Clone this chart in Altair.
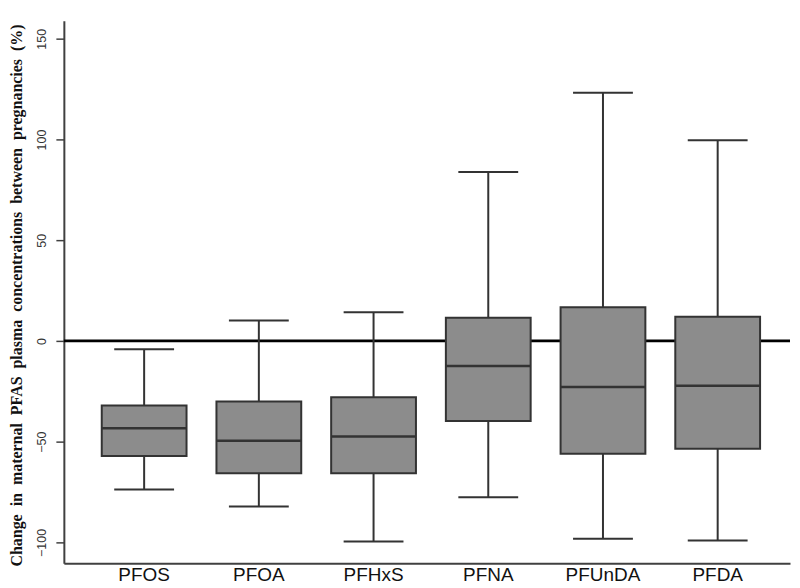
import altair as alt
import pandas as pd

pollutants = ["PFOS", "PFOA", "PFHxS", "PFNA", "PFUnDA", "PFDA"]
whisker_low = [-73.8, -82.2, -99.6, -77.6, -98.2, -99.1]
q1 = [-57.1, -65.7, -65.7, -39.8, -56.0, -53.5]
median = [-43.3, -49.5, -47.4, -12.4, -22.9, -22.3]
q3 = [-32.0, -30.0, -27.9, 11.5, 16.7, 12.0]
whisker_high = [-4.1, 10.1, 14.2, 83.9, 123.2, 99.7]
y_ticks = [-100, -50, 0, 50, 100, 150]
GAP = "\u2002"
y_title = GAP.join(["Change", "in", "maternal", "PFAS", "plasma", "concentrations",
                    "between", "pregnancies", "(%)"])

df = pd.DataFrame({
    "pollutant": pollutants,
    "lo": whisker_low,
    "q1": q1,
    "med": median,
    "q3": q3,
    "hi": whisker_high,
})

W, H = 728, 544
DARK = "#333333"

xscale = alt.Scale(domain=pollutants, paddingInner=0, paddingOuter=0.1652, align=0.605)
xenc = alt.X("pollutant:N", scale=xscale, sort=pollutants,
             axis=alt.Axis(title=None, ticks=False, labelAngle=0, labelPadding=2,
                           labelFont="Liberation Sans", labelFontSize=19, labelColor="#111111",
                           domainColor="#404040", domainWidth=2))
yscale = alt.Scale(domain=[-110.4, 159], nice=False, zero=False)
yaxis = alt.Axis(title=y_title, values=y_ticks, grid=False, tickSize=8, tickWidth=1.5,
                 tickColor="#404040", domainColor="#404040", domainWidth=2,
                 labelAngle=270, labelAlign="center", labelBaseline="alphabetic",
                 labelPadding=10, labelFont="Liberation Sans", labelFontSize=12.5,
                 labelColor="#333333",
                 titleFont="Liberation Serif", titleFontSize=16, titleFontWeight="bold",
                 titleColor="#111111", titleAngle=270, titleAlign="center",
                 titleBaseline="top", titleX=-55, titleY=H / 2 + 3)

base = alt.Chart(df)

zero = alt.Chart(pd.DataFrame({"v": [0]})).mark_rule(color="black", strokeWidth=2.8).encode(
    y=alt.Y("v:Q", scale=yscale, axis=yaxis)
)

whisk = base.mark_rule(color=DARK, strokeWidth=2).encode(
    x=xenc, y=alt.Y("lo:Q", scale=yscale, axis=yaxis), y2="hi:Q"
)

box = base.mark_bar(size=85, fill="#8c8c8c", stroke=DARK, strokeWidth=2).encode(
    x=xenc, y=alt.Y("q1:Q", scale=yscale, axis=yaxis), y2="q3:Q"
)

med = base.mark_tick(size=85, thickness=2.5, color=DARK, opacity=1).encode(
    x=xenc, y=alt.Y("med:Q", scale=yscale, axis=yaxis)
)

cap_lo = base.mark_tick(size=60, thickness=2, color=DARK, opacity=1).encode(
    x=xenc, y=alt.Y("lo:Q", scale=yscale, axis=yaxis)
)
cap_hi = base.mark_tick(size=60, thickness=2, color=DARK, opacity=1).encode(
    x=xenc, y=alt.Y("hi:Q", scale=yscale, axis=yaxis)
)

chart = alt.layer(zero, whisk, box, med, cap_lo, cap_hi).properties(
    width=W, height=H, padding={"left": 0, "top": 12, "right": 0, "bottom": 0},
    background="white"
).configure_view(stroke=None)

chart.save("out.html", embed_options={"renderer": "svg", "actions": False})
